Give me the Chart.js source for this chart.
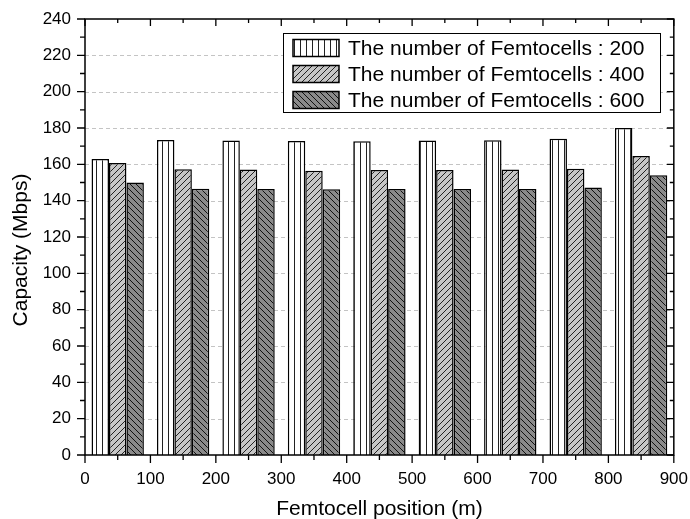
<!DOCTYPE html>
<html>
<head>
<meta charset="utf-8">
<script src="https://cdn.jsdelivr.net/npm/chart.js@4/dist/chart.umd.min.js"></script>
<style>
html,body{margin:0;padding:0;background:#fff;}
#wrap{width:690px;height:519px;}
</style>
</head>
<body>
<div id="wrap"><canvas id="c" width="690" height="519"></canvas></div>
<script>
// ---- data ----
const positions = [50, 150, 250, 350, 450, 550, 650, 750, 850];          // group centres (m)
const cap200 = [163.0, 173.4, 173.1, 172.8, 172.7, 173.1, 173.2, 174.1, 180.0];
const cap400 = [160.8, 157.3, 157.1, 156.5, 156.9, 156.9, 157.1, 157.6, 164.6];
const cap600 = [150.0, 146.6, 146.4, 146.3, 146.4, 146.4, 146.4, 147.2, 154.0];
const seriesLabels = [
  'The number of Femtocells : 200',
  'The number of Femtocells : 400',
  'The number of Femtocells : 600'
];
const xTickValues = [0, 100, 200, 300, 400, 500, 600, 700, 800, 900];
const yTickValues = [0, 20, 40, 60, 80, 100, 120, 140, 160, 180, 200, 220, 240];
const xTitle = 'Femtocell position (m)';
const yTitle = 'Capacity (Mbps)';

// ---- styling ----
const FONT = "'Liberation Sans', Arial, Helvetica, sans-serif";

function makePattern(kind, fill, stroke, p) {
  const c = document.createElement('canvas');
  c.width = p; c.height = p;
  const g = c.getContext('2d');
  g.fillStyle = fill; g.fillRect(0, 0, p, p);
  g.strokeStyle = stroke; g.lineWidth = 1;
  g.beginPath();
  if (kind === 'v') {
    g.moveTo(0.5, 0); g.lineTo(0.5, p);
  } else if (kind === 'fwd') {       // "/"
    g.moveTo(-1, p + 1); g.lineTo(p + 1, -1);
    g.moveTo(-1, 1); g.lineTo(1, -1);
    g.moveTo(p - 1, p + 1); g.lineTo(p + 1, p - 1);
  } else {                           // "\"
    g.moveTo(-1, -1); g.lineTo(p + 1, p + 1);
    g.moveTo(p - 1, -1); g.lineTo(p + 1, 1);
    g.moveTo(-1, p - 1); g.lineTo(1, p + 1);
  }
  g.stroke();
  return g.createPattern(c, 'repeat');
}
const pat200 = makePattern('v', '#ffffff', '#222222', 6);
const pat400 = makePattern('fwd', '#c6c6c6', '#222222', 6);
const pat600 = makePattern('back', '#8a8a8a', '#111111', 6);

const framePlugin = {
  id: 'framePlugin',
  beforeDatasetsDraw(chart) {
    const { ctx, chartArea: a } = chart;
    const y = chart.scales.y;
    ctx.save();
    ctx.strokeStyle = '#c4c4c4';
    ctx.lineWidth = 1;
    ctx.setLineDash([4, 3]);
    yTickValues.forEach(v => {
      if (v === 0 || v === 240) return;
      const py = Math.round(y.getPixelForValue(v)) + 0.5;
      ctx.beginPath(); ctx.moveTo(a.left, py); ctx.lineTo(a.right, py); ctx.stroke();
    });
    ctx.restore();
  },
  afterDatasetsDraw(chart) {
    const { ctx, chartArea: a } = chart;
    const y = chart.scales.y, xs = chart.scales.xpos;
    ctx.save();
    ctx.strokeStyle = '#000';
    ctx.lineWidth = 1.5;
    ctx.setLineDash([]);
    ctx.strokeRect(a.left, a.top, a.right - a.left, a.bottom - a.top);
    // ticks
    ctx.lineWidth = 1.3;
    ctx.beginPath();
    for (let i = 0; i < yTickValues.length; i++) {
      const vals = [yTickValues[i]];
      if (i < yTickValues.length - 1) vals.push((yTickValues[i] + yTickValues[i + 1]) / 2);
      vals.forEach((v, k) => {
        const major = k === 0;
        const py = y.getPixelForValue(v);
        const L = major ? 8 : 5;
        const R = major ? 7 : 4;
        ctx.moveTo(a.left, py); ctx.lineTo(a.left - L, py);
        ctx.moveTo(a.right, py); ctx.lineTo(a.right - R, py);
      });
    }
    for (let i = 0; i < xTickValues.length; i++) {
      const vals = [xTickValues[i]];
      if (i < xTickValues.length - 1) vals.push((xTickValues[i] + xTickValues[i + 1]) / 2);
      vals.forEach((v, k) => {
        const major = k === 0;
        const px = xs.getPixelForValue(v);
        const B = major ? 8 : 5;
        const T = major ? 7 : 4;
        ctx.moveTo(px, a.bottom); ctx.lineTo(px, a.bottom + B);
        ctx.moveTo(px, a.top); ctx.lineTo(px, a.top + T);
      });
    }
    ctx.stroke();

    // legend
    const lx = 283.5, ly = 33.5, lw = 377, lh = 79;
    ctx.fillStyle = '#fff';
    ctx.fillRect(lx, ly, lw, lh);
    ctx.lineWidth = 1;
    ctx.strokeStyle = '#000';
    ctx.strokeRect(lx, ly, lw, lh);
    ctx.font = '21px ' + FONT;
    ctx.textBaseline = 'middle';
    ctx.textAlign = 'left';
    chart.data.datasets.forEach((ds, i) => {
      const cy = 48 + i * 26;
      ctx.fillStyle = ds.backgroundColor;
      ctx.fillRect(293, cy - 8.5, 46, 17);
      ctx.lineWidth = 1.5;
      ctx.strokeStyle = '#000';
      ctx.strokeRect(293, cy - 8.5, 46, 17);
      ctx.fillStyle = '#000';
      ctx.fillText(ds.label, 348, cy + 1);
    });

    // axis titles
    ctx.fillStyle = '#000';
    ctx.font = '21px ' + FONT;
    ctx.textAlign = 'center';
    ctx.textBaseline = 'alphabetic';
    ctx.fillText(xTitle, (a.left + a.right) / 2, 515);
    ctx.save();
    ctx.translate(27, 250);
    ctx.rotate(-Math.PI / 2);
    ctx.fillText(yTitle, 0, 0);
    ctx.restore();
    ctx.restore();
  }
};

Chart.defaults.font.family = FONT;
Chart.defaults.color = '#000';

const chart = new Chart(document.getElementById('c'), {
  type: 'bar',
  data: {
    labels: positions,
    datasets: [
      { label: seriesLabels[0], data: cap200, backgroundColor: pat200, borderColor: '#000', borderWidth: 1.5 },
      { label: seriesLabels[1], data: cap400, backgroundColor: pat400, borderColor: '#000', borderWidth: 1.5 },
      { label: seriesLabels[2], data: cap600, backgroundColor: pat600, borderColor: '#000', borderWidth: 1.5 }
    ]
  },
  options: {
    responsive: false,
    animation: false,
    devicePixelRatio: 1,
    layout: { padding: { top: 19, right: 16, left: 0, bottom: 0 } },
    datasets: { bar: { barPercentage: 1.0, categoryPercentage: 0.8 } },
    plugins: { legend: { display: false }, tooltip: { enabled: false } },
    scales: {
      x: { type: 'category', display: false, offset: true },
      xpos: {
        type: 'linear', position: 'bottom', min: 0, max: 900, offset: false,
        afterBuildTicks: s => { s.ticks = xTickValues.map(v => ({ value: v })); },
        ticks: { font: { size: 17 }, color: '#000', padding: 2, maxRotation: 0, autoSkip: false },
        grid: { display: false, drawTicks: true, tickLength: 12, tickColor: 'rgba(0,0,0,0)', offset: false },
        border: { display: false },
        afterFit: s => { s.height = 64; }
      },
      y: {
        type: 'linear', min: 0, max: 240,
        afterBuildTicks: s => { s.ticks = yTickValues.map(v => ({ value: v })); },
        ticks: { font: { size: 17 }, color: '#000', padding: 2 },
        grid: { display: false, drawTicks: true, tickLength: 12, tickColor: 'rgba(0,0,0,0)' },
        border: { display: false },
        afterFit: s => { s.width = 85; }
      }
    }
  },
  plugins: [framePlugin]
});
</script>
</body>
</html>
